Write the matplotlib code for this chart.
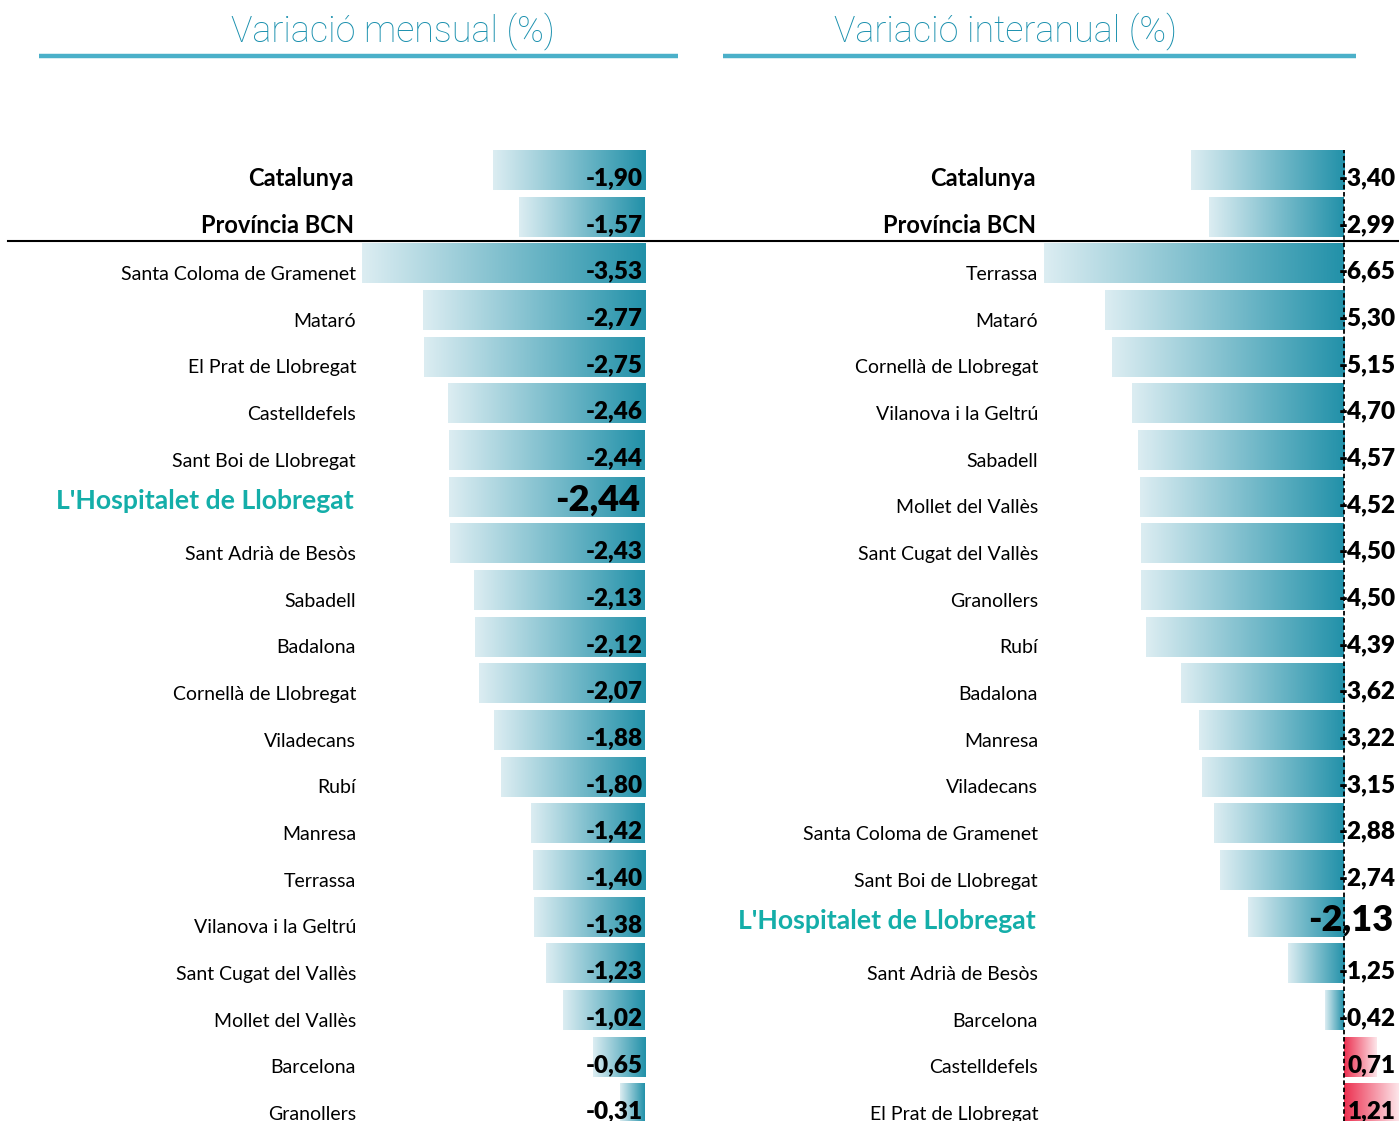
import matplotlib
matplotlib.use("Agg")
import matplotlib.pyplot as plt
import numpy as np
from matplotlib.colors import LinearSegmentedColormap
from matplotlib.lines import Line2D

# ---------------- data ----------------
mensual_cats = ["Catalunya", "Província BCN", "Santa Coloma de Gramenet", "Mataró",
                "El Prat de Llobregat", "Castelldefels", "Sant Boi de Llobregat",
                "L'Hospitalet de Llobregat", "Sant Adrià de Besòs", "Sabadell", "Badalona",
                "Cornellà de Llobregat", "Viladecans", "Rubí", "Manresa", "Terrassa",
                "Vilanova i la Geltrú", "Sant Cugat del Vallès", "Mollet del Vallès",
                "Barcelona", "Granollers"]
mensual_vals = [-1.90, -1.57, -3.53, -2.77, -2.75, -2.46, -2.44, -2.44, -2.43, -2.13, -2.12,
                -2.07, -1.88, -1.80, -1.42, -1.40, -1.38, -1.23, -1.02, -0.65, -0.31]

inter_cats = ["Catalunya", "Província BCN", "Terrassa", "Mataró", "Cornellà de Llobregat",
              "Vilanova i la Geltrú", "Sabadell", "Mollet del Vallès", "Sant Cugat del Vallès",
              "Granollers", "Rubí", "Badalona", "Manresa", "Viladecans",
              "Santa Coloma de Gramenet", "Sant Boi de Llobregat", "L'Hospitalet de Llobregat",
              "Sant Adrià de Besòs", "Barcelona", "Castelldefels", "El Prat de Llobregat"]
inter_vals = [-3.40, -2.99, -6.65, -5.30, -5.15, -4.70, -4.57, -4.52, -4.50, -4.50, -4.39,
              -3.62, -3.22, -3.15, -2.88, -2.74, -2.13, -1.25, -0.42, 0.71, 1.21]

titles = ["Variació mensual (%)", "Variació interanual (%)"]
highlight = "L'Hospitalet de Llobregat"
aggregates = ["Catalunya", "Província BCN"]

# ---------------- style ----------------
W, H, DPI = 1399, 1121, 100
FONT = "Lato"
TEAL_DARK = "#2291a9"
TEAL_LIGHT = "#dcedf2"
RED_DARK = "#ec3050"
RED_LIGHT = "#fde6ea"
HL_COLOR = "#14aea9"
TITLE_COLOR = "#1a90ae"
TITLE_LINE = "#4bb0c9"
VAL_WEIGHT = "heavy"

neg_cmap = LinearSegmentedColormap.from_list("neg", [TEAL_LIGHT, TEAL_DARK])
pos_cmap = LinearSegmentedColormap.from_list("pos", [RED_DARK, RED_LIGHT])
grad = np.linspace(0, 1, 256).reshape(1, -1)

fig = plt.figure(figsize=(W / DPI, H / DPI), dpi=DPI)

ROW_TOP = 170.0     # px centre of first row
ROW_PITCH = 46.67   # px between rows
BAR_H = 40.0 / ROW_PITCH


def px_to_y(py):
    return (py - ROW_TOP) / ROW_PITCH


def make_panel(x0_px, x1_px, zero_px, px_per_unit, cats, vals, label_right_px,
               value_right_px, dashed):
    ax = fig.add_axes([x0_px / W, 0, (x1_px - x0_px) / W, 1])
    xl = ((x0_px - zero_px) / px_per_unit, (x1_px - zero_px) / px_per_unit)
    yl = (px_to_y(H), px_to_y(0))
    ax.axis("off")
    n = len(cats)
    ypos = np.arange(n)
    bars = ax.barh(ypos, vals, height=BAR_H, color="none", edgecolor="none")
    for b, v, y in zip(bars, vals, ypos):
        if v < 0:
            ext = [v, 0, y + BAR_H / 2, y - BAR_H / 2]
            cm = neg_cmap
        else:
            ext = [0, v, y + BAR_H / 2, y - BAR_H / 2]
            cm = pos_cmap
        im = ax.imshow(grad, extent=ext, aspect="auto", cmap=cm, zorder=1,
                       interpolation="bilinear")
        im.set_clip_path(b)
    ax.set_xlim(*xl)
    ax.set_ylim(*yl)

    lab_x = (label_right_px - zero_px) / px_per_unit
    val_x = (value_right_px - zero_px) / px_per_unit
    for c, v, y in zip(cats, vals, ypos):
        txt = f"{v:.2f}".replace(".", ",")
        if c == highlight:
            ax.text(lab_x - 2 / px_per_unit, y + 0.1, c, ha="right", va="center",
                    fontsize=19.2, fontweight="bold", color=HL_COLOR, family=FONT, zorder=3)
            ax.text(val_x - 3 / px_per_unit, y + 0.07, txt, ha="right", va="center",
                    fontsize=26, fontweight=VAL_WEIGHT, color="black", family=FONT, zorder=3)
        elif c in aggregates:
            ax.text(lab_x - 2 / px_per_unit, y + 0.18, c, ha="right", va="center",
                    fontsize=17, fontweight="bold", color="black", family=FONT, zorder=3)
            ax.text(val_x, y + 0.18, txt, ha="right", va="center", fontsize=17.5,
                    fontweight=VAL_WEIGHT, color="black", family=FONT, zorder=3)
        else:
            ax.text(lab_x, y + 0.24, c, ha="right", va="center", fontsize=14,
                    color="black", family=FONT, zorder=3)
            ax.text(val_x, y + 0.18, txt, ha="right", va="center", fontsize=17.5,
                    fontweight=VAL_WEIGHT, color="black", family=FONT, zorder=3)
    if dashed:
        ax.axvline(0, ymin=0, ymax=1 - 150 / H, color="black", lw=1.3,
                   ls=(0, (2.5, 1.5)), zorder=2)
    return ax


make_panel(0, 700, 645, 80.2, mensual_cats, mensual_vals, 356, 643, False)
make_panel(700, W, 1344, 45.1, inter_cats, inter_vals, 1038, 1396, True)

# titles and underline
for cx, (l0, l1), t in [(393, (39, 678), titles[0]), (1006, (723, 1356), titles[1])]:
    fig.text(cx / W, 1 - 31 / H, t, ha="center", va="center", fontsize=25.8,
             color=TITLE_COLOR, family="Roboto", fontweight="light")
    fig.add_artist(Line2D([l0 / W, l1 / W], [1 - 56 / H, 1 - 56 / H],
                          color=TITLE_LINE, lw=3.2, solid_capstyle="butt"))

# separator line under aggregates
fig.add_artist(Line2D([8 / W, 1], [1 - 241 / H, 1 - 241 / H], color="black", lw=1.5))

fig.savefig("out.png", dpi=DPI, facecolor="white")
